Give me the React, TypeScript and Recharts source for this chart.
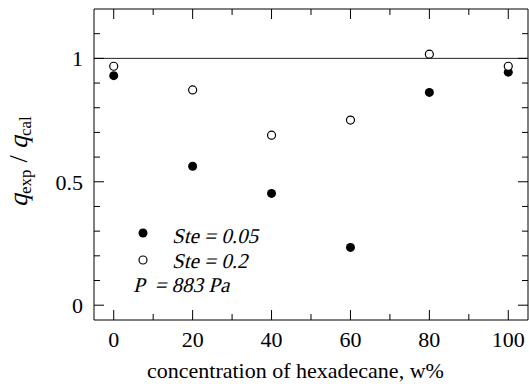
import { ScatterChart, Scatter, XAxis, YAxis, ReferenceLine } from 'recharts';

// hexadecane concentration, w%
const concentrations = [0, 20, 40, 60, 80, 100];
// q_exp / q_cal for the two Stefan numbers
const ste005 = [0.93, 0.563, 0.453, 0.234, 0.862, 0.944];
const ste02 = [0.968, 0.872, 0.689, 0.75, 1.017, 0.968];

const xTicks = [0, 10, 20, 30, 40, 50, 60, 70, 80, 90, 100];
const xLabels = [0, 20, 40, 60, 80, 100];
const yTicks = [0, 0.1, 0.2, 0.3, 0.4, 0.5, 0.6, 0.7, 0.8, 0.9, 1, 1.1];
const yLabels = [0, 0.5, 1];

const ste005Data = concentrations.map((c, i) => ({ x: c, y: ste005[i] }));
const ste02Data = concentrations.map((c, i) => ({ x: c, y: ste02[i] }));

const FONT = 'Liberation Serif';
const SLANT = -14; // no serif italic face installed, so slant the upright one

const isMajorX = (v: number) => xLabels.includes(v);
const isMajorY = (v: number) => yLabels.some((l) => Math.abs(l - v) < 1e-6);

// ticks point into the plot, majors are longer
function BottomTick(props: any) {
  const { x, y, payload } = props;
  const major = isMajorX(payload.value);
  return (
    <g>
      <line x1={x} y1={y} x2={x} y2={y - (major ? 10 : 6)} stroke="#000" />
      {major && (
        <text x={x} y={y + 27} textAnchor="middle" fontFamily={FONT} fontSize={22} fill="#000">
          {payload.value}
        </text>
      )}
    </g>
  );
}

function TopTick(props: any) {
  const { x, y, payload } = props;
  const major = isMajorX(payload.value);
  return <line x1={x} y1={y} x2={x} y2={y + (major ? 10 : 6)} stroke="#000" />;
}

function LeftTick(props: any) {
  const { x, y, payload } = props;
  const major = isMajorY(payload.value);
  return (
    <g>
      <line x1={x} y1={y} x2={x + (major ? 10 : 6)} y2={y} stroke="#000" />
      {major && (
        <text x={x - 11} y={y + 8} textAnchor="end" fontFamily={FONT} fontSize={22} fill="#000">
          {payload.value}
        </text>
      )}
    </g>
  );
}

function RightTick(props: any) {
  const { x, y, payload } = props;
  const major = isMajorY(payload.value);
  return <line x1={x} y1={y} x2={x - (major ? 10 : 6)} y2={y} stroke="#000" />;
}

const FilledDot = (props: any) => <circle cx={props.cx} cy={props.cy} r={4.5} fill="#000" />;
const OpenDot = (props: any) => (
  <circle cx={props.cx} cy={props.cy} r={4} fill="#fff" stroke="#000" strokeWidth={1.2} />
);

function Slanted({ x, y, size, children }: { x: number; y: number; size: number; children: string }) {
  return (
    <g transform={`translate(${x},${y}) skewX(${SLANT})`}>
      <text x={0} y={0} fontSize={size} fill="#000" xmlSpace="preserve">
        {children}
      </text>
    </g>
  );
}

export default function App() {
  return (
    <div style={{ position: 'absolute', left: 0, top: 0, width: 529, height: 384, background: '#fff' }}>
      <ScatterChart width={529} height={384} margin={{ top: 8, right: 0, bottom: 63, left: 93 }}>
        <XAxis
          xAxisId="b"
          type="number"
          dataKey="x"
          domain={[-5, 105]}
          ticks={xTicks}
          interval={0}
          height={1}
          tickSize={0}
          tickMargin={0}
          tickLine={false}
          tick={<BottomTick />}
          axisLine={{ stroke: '#000' }}
          allowDataOverflow
        />
        <XAxis
          xAxisId="t"
          orientation="top"
          type="number"
          dataKey="x"
          domain={[-5, 105]}
          ticks={xTicks}
          interval={0}
          height={1}
          tickSize={0}
          tickMargin={0}
          tickLine={false}
          tick={<TopTick />}
          axisLine={{ stroke: '#000' }}
          allowDataOverflow
        />
        <YAxis
          yAxisId="l"
          type="number"
          dataKey="y"
          domain={[-0.06, 1.2]}
          ticks={yTicks}
          interval={0}
          width={1}
          tickSize={0}
          tickMargin={0}
          tickLine={false}
          tick={<LeftTick />}
          axisLine={{ stroke: '#000' }}
          allowDataOverflow
        />
        <YAxis
          yAxisId="r"
          orientation="right"
          type="number"
          dataKey="y"
          domain={[-0.06, 1.2]}
          ticks={yTicks}
          interval={0}
          width={1}
          tickSize={0}
          tickMargin={0}
          tickLine={false}
          tick={<RightTick />}
          axisLine={{ stroke: '#000' }}
          allowDataOverflow
        />
        <ReferenceLine xAxisId="b" yAxisId="l" y={1} stroke="#222" strokeWidth={1} />
        <Scatter xAxisId="b" yAxisId="l" data={ste005Data} shape={<FilledDot />} isAnimationActive={false} />
        <Scatter xAxisId="b" yAxisId="l" data={ste02Data} shape={<OpenDot />} isAnimationActive={false} />
        <Scatter xAxisId="t" yAxisId="r" data={ste02Data} shape={() => <g />} isAnimationActive={false} />
      </ScatterChart>

      {/* axis titles and legend */}
      <svg
        width={529}
        height={384}
        style={{ position: 'absolute', left: 0, top: 0, pointerEvents: 'none' }}
        fontFamily={FONT}
      >
        <g transform="translate(27,161) rotate(-90)">
          <Slanted x={-46} y={0} size={26}>q</Slanted>
          <text x={-33} y={4} fontSize={17} fill="#000">exp</text>
          <text x={-8} y={0} fontSize={26} fill="#000" xmlSpace="preserve"> / </text>
          <Slanted x={12} y={0} size={26}>q</Slanted>
          <text x={25} y={4} fontSize={17} fill="#000">cal</text>
        </g>
        <text x={147} y={378} fontSize={22} fill="#000">
          concentration of hexadecane, w%
        </text>

        <circle cx={143} cy={233} r={4.5} fill="#000" />
        <Slanted x={172} y={243} size={21}>Ste = 0.05</Slanted>
        <circle cx={143} cy={260} r={4} fill="#fff" stroke="#000" strokeWidth={1.2} />
        <Slanted x={172} y={268} size={21}>Ste = 0.2</Slanted>
        <Slanted x={133} y={292} size={21}>P  = 883 Pa</Slanted>
      </svg>
    </div>
  );
}
